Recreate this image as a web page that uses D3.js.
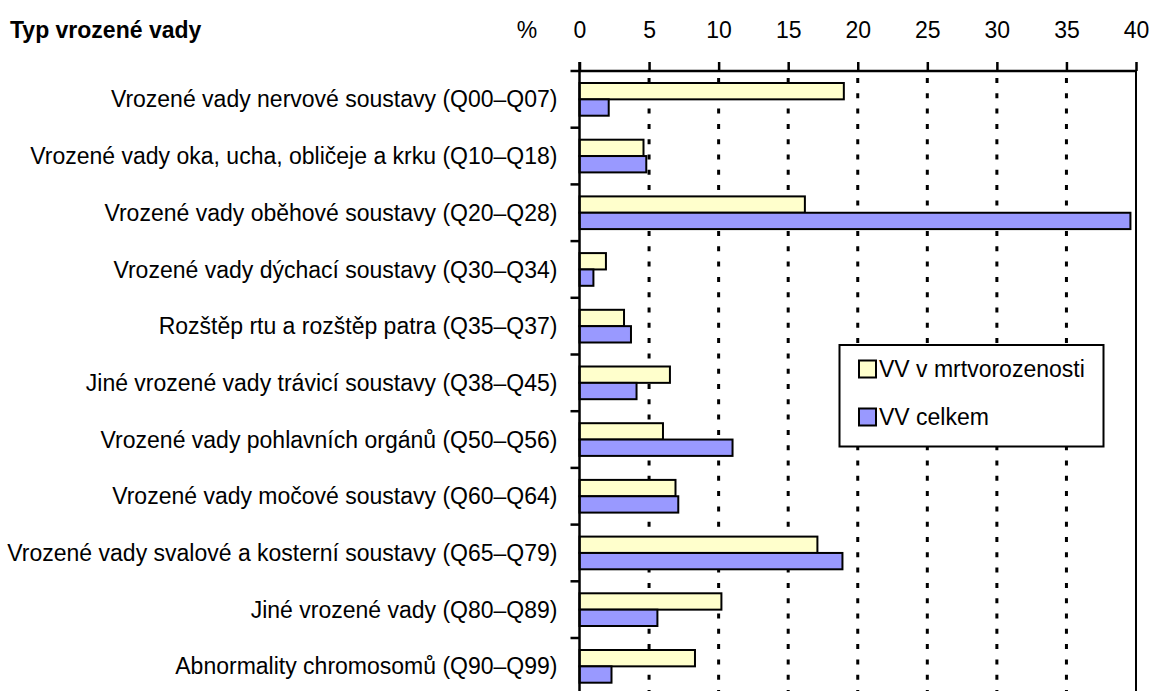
<!DOCTYPE html>
<html><head><meta charset="utf-8">
<script src="https://cdn.jsdelivr.net/npm/d3@7/dist/d3.min.js"></script>
<style>
body{margin:0;background:#fff;}
svg{display:block;}
text{font-family:"Liberation Sans",Arial,sans-serif;fill:#000;}
</style></head><body>
<svg id="c" width="1150" height="691"></svg>
<script>
const categories = [
 "Vrozené vady nervové soustavy (Q00–Q07)",
 "Vrozené vady oka, ucha, obličeje a krku (Q10–Q18)",
 "Vrozené vady oběhové soustavy (Q20–Q28)",
 "Vrozené vady dýchací soustavy (Q30–Q34)",
 "Rozštěp rtu a rozštěp patra (Q35–Q37)",
 "Jiné vrozené vady trávicí soustavy (Q38–Q45)",
 "Vrozené vady pohlavních orgánů (Q50–Q56)",
 "Vrozené vady močové soustavy (Q60–Q64)",
 "Vrozené vady svalové a kosterní soustavy (Q65–Q79)",
 "Jiné vrozené vady (Q80–Q89)",
 "Abnormality chromosomů (Q90–Q99)"
];
const seriesNames = ["VV v mrtvorozenosti", "VV celkem"];
const mrtvo = [19.0, 4.6, 16.2, 1.9, 3.2, 6.5, 6.0, 6.9, 17.1, 10.2, 8.3];
const celkem = [2.1, 4.8, 39.6, 1.0, 3.7, 4.1, 11.0, 7.1, 18.9, 5.6, 2.3];
const xTicks = [0, 5, 10, 15, 20, 25, 30, 35, 40];
const colors = ["#FFFFCC", "#9999FF"];

const svg = d3.select("#c");
const x0 = 579.5, x1 = 1136, yTop = 71, step = 56.7;
const x = d3.scaleLinear().domain([0, 40]).range([x0, x1]);
const y = d3.scaleBand().domain(categories).range([yTop, yTop + step * categories.length]).padding(0);
const yIn = d3.scaleBand().domain(seriesNames).range([12, y.bandwidth() - 12]).padding(0);

// gridlines
svg.append("g").selectAll("line").data(xTicks.filter(t => t > 0 && t < 40)).join("line")
  .attr("x1", d => x(d)).attr("x2", d => x(d))
  .attr("y1", yTop).attr("y2", 691)
  .attr("stroke", "#000").attr("stroke-width", 3).attr("stroke-dasharray", "5,10.3")
  .attr("stroke-dashoffset", -7);
// right border
svg.append("line").attr("x1", x(40)).attr("x2", x(40)).attr("y1", yTop).attr("y2", 691)
  .attr("stroke", "#000").attr("stroke-width", 2);

// bars
const data = categories.map((c, i) => ({c, vals: [mrtvo[i], celkem[i]]}));
const g = svg.append("g");
data.forEach(d => {
  d.vals.forEach((v, j) => {
    g.append("rect")
      .attr("x", x(0)).attr("y", y(d.c) + yIn(seriesNames[j]))
      .attr("width", x(v) - x(0)).attr("height", yIn.bandwidth())
      .attr("fill", colors[j]).attr("stroke", "#000").attr("stroke-width", 2);
  });
});

// top axis
const ax = d3.axisTop(x).tickValues(xTicks).tickSize(9).tickPadding(24).tickFormat(d3.format("d"));
const axg = svg.append("g").attr("transform", `translate(0,${yTop})`).call(ax);
axg.select(".domain").remove();
axg.selectAll(".tick line").attr("stroke", "#000").attr("stroke-width", 2.5);
axg.selectAll(".tick text").attr("font-size", 23).attr("font-family", '"Liberation Sans",Arial,sans-serif');
svg.append("line").attr("x1", x0 - 9).attr("x2", x1).attr("y1", yTop).attr("y2", yTop)
  .attr("stroke", "#000").attr("stroke-width", 2.5);

// left axis
svg.append("line").attr("x1", x0).attr("x2", x0).attr("y1", yTop - 9).attr("y2", 691)
  .attr("stroke", "#000").attr("stroke-width", 2.5);
svg.append("g").selectAll("line").data(categories.slice(1)).join("line")
  .attr("x1", x0 - 9).attr("x2", x0).attr("y1", d => y(d)).attr("y2", d => y(d))
  .attr("stroke", "#000").attr("stroke-width", 2.5);

// category labels
svg.append("g").selectAll("text").data(categories).join("text")
  .attr("x", x0 - 22).attr("y", d => y(d) + y.bandwidth() / 2)
  .attr("dy", "0.35em").attr("text-anchor", "end").attr("font-size", 23).text(d => d);

// headers
svg.append("text").attr("x", 10).attr("y", 38).attr("font-size", 23).attr("font-weight", "bold").text("Typ vrozené vady");
svg.append("text").attr("x", 527).attr("y", 38).attr("font-size", 23).attr("text-anchor", "middle").text("%");

// legend
const lg = svg.append("g");
lg.append("rect").attr("x", 839.5).attr("y", 345).attr("width", 264).attr("height", 101.5)
  .attr("fill", "#fff").attr("stroke", "#000").attr("stroke-width", 2);
seriesNames.forEach((s, j) => {
  const cy = 369 + j * 48;
  lg.append("rect").attr("x", 859).attr("y", cy - 8.5).attr("width", 17).attr("height", 17)
    .attr("fill", colors[j]).attr("stroke", "#000").attr("stroke-width", 2);
  lg.append("text").attr("x", 879).attr("y", cy).attr("dy", "0.35em").attr("font-size", 23).text(s);
});
</script></body></html>
